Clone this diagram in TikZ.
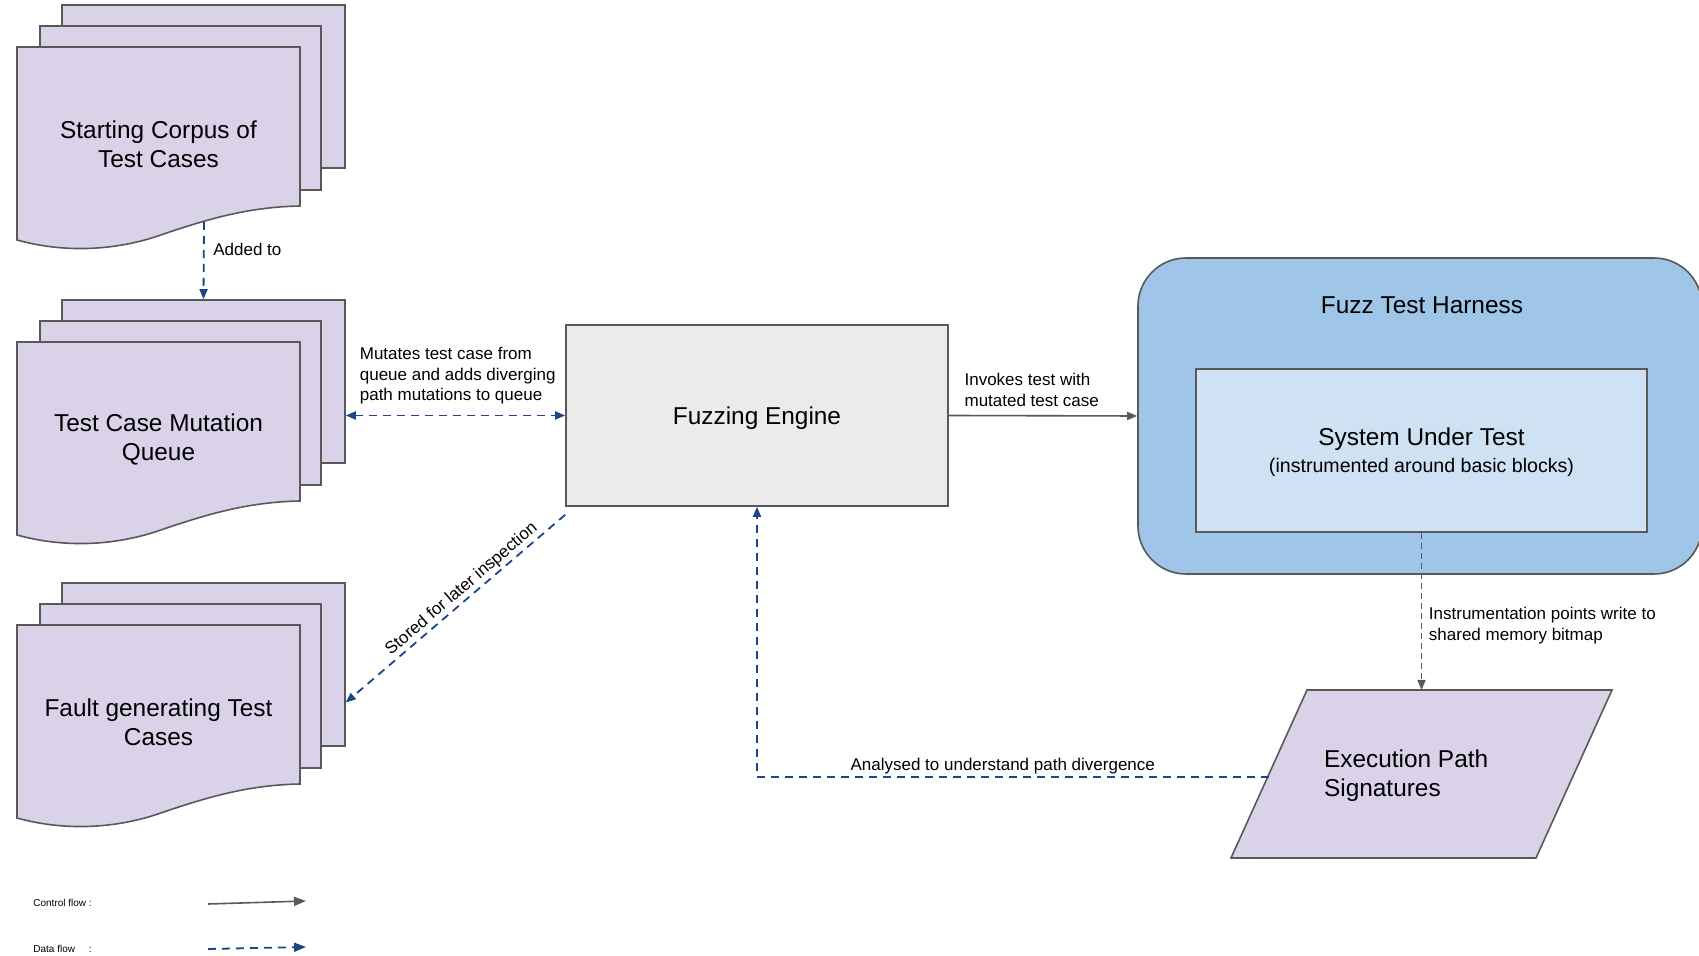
\documentclass[tikz,border=0pt]{standalone}
\usepackage{fontspec}
\setmainfont{Liberation Sans}
\usetikzlibrary{arrows.meta}
\usetikzlibrary{positioning}

\definecolor{sheetfill}{HTML}{D9D2E9}
\definecolor{enginefill}{HTML}{EBEBEB}
\definecolor{harnessfill}{HTML}{9FC5E8}
\definecolor{sutfill}{HTML}{CFE2F3}
\definecolor{edgegray}{HTML}{595959}
\definecolor{flowblue}{HTML}{1C4587}

\tikzset{
  sheet/.style={draw=edgegray, fill=sheetfill, line width=0.8pt},
  box/.style={draw=edgegray, line width=0.8pt},
  bigtext/.style={font=\fontsize{12.2}{14.6}\selectfont, align=center},
  smalltext/.style={font=\fontsize{8.5}{10.2}\selectfont, align=left},
  keytext/.style={font=\fontsize{5}{6}\selectfont, inner sep=0pt, anchor=west},
  controlflow/.style={draw=edgegray, line width=0.8pt, -{Triangle[length=5pt,width=4pt]}},
  dataflow/.style={draw=flowblue, line width=0.9pt, dash pattern=on 4pt off 3pt, -{Triangle[length=5pt,width=4pt]}},
}

\begin{document}
\begin{tikzpicture}[x=0.5pt, y=-0.5pt]
\useasboundingbox (0,0) rectangle (1699,956);
\clip (0,0) rectangle (1699,956);
% stacks of test case sheets
\foreach \dy/\name/\txt in {0/corpus/{Starting Corpus of\\Test Cases}, 295/queue/{Test Case Mutation\\Queue}, 578/faults/{Fault generating Test\\Cases}}{
  \begin{scope}[shift={(0,\dy)}]
  \node[sheet, minimum width=141.5pt, minimum height=81.5pt] (\name-back) at (203.5,86.5) {};
  \node[sheet, minimum width=140.5pt, minimum height=82pt] (\name-mid) at (180.5,108) {};
  \draw[sheet] (17,47) -- (300,47) -- (300,206) .. controls (250,207) and (210,218) .. (158,236) .. controls (110,252) and (60,252) .. (17,240) -- cycle;
  \node[bigtext] (\name) at (158.5,144.5) {\txt};
  \coordinate (\name-wave) at (204,222);
  \end{scope}
}
% engine and harness
\node[box, fill=enginefill, minimum width=191pt, minimum height=90.5pt, bigtext, text depth=0pt] (engine) at (757,415.5) {Fuzzing Engine};
\node[box, fill=harnessfill, rounded corners=24pt, minimum width=282pt, minimum height=158pt] (harness) at (1420,416) {};
\node[bigtext] (harness-title) at (1422,305) {Fuzz Test Harness};
\node[box, fill=sutfill, minimum width=225.5pt, minimum height=81.5pt, bigtext, text depth=0pt] (sut) at (1421.5,450.5) {System Under Test\\[-1pt]{\fontsize{9.8}{11}\selectfont (instrumented around basic blocks)}};
% signatures
\draw[sheet] (1307,690) coordinate (exec-top) -- (1612,690) -- (1536,858) -- (1231,858) -- cycle;
\coordinate (exec-w) at (1269,777);
\node[bigtext, align=left, anchor=west] (exec) at (1317,775.5) {Execution Path\\Signatures};
% connectors
\draw[dataflow] (corpus-wave) -- node[smalltext, right, pos=0.35, xshift=1pt] {Added to} (queue-back.north);
\draw[dataflow, {Triangle[length=5pt,width=4pt]}-{Triangle[length=5pt,width=4pt]}] (queue-back.east |- engine.west) -- node[smalltext, above=2pt, pos=0.51] {Mutates test case from\\queue and adds diverging\\path mutations to queue} (engine.west);
\draw[dataflow] ([yshift=-4pt]engine.south west) -- node[smalltext, sloped, above, inner sep=1pt, pos=0.44] {Stored for later inspection} ([yshift=-19pt]faults-back.east);
\draw[controlflow] (engine.east) -- node[smalltext, above=1pt, pos=0.44] {Invokes test with\\mutated test case} (harness.west);
\draw[controlflow, dash pattern=on 3pt off 2pt] (sut.south) -- node[smalltext, right, pos=0.59] {Instrumentation points write to\\shared memory bitmap} (sut.south |- exec-top);
\draw[dataflow] (exec-w) -- node[smalltext, above, inner sep=1pt, pos=0.52] {Analysed to understand path divergence} (exec-w -| engine.south) -- (engine.south);
% legend
\node[keytext] (ctrl-key) at (33,903) {Control flow :};
\node[keytext] (data-key) at (33,949) {Data flow\hspace{6.9pt}:};
\coordinate (ctrl-a) at (208,904);
\coordinate (ctrl-b) at (306,901);
\coordinate (data-a) at (208,949);
\coordinate (data-b) at (306,947);
\draw[controlflow, -{Triangle[length=6pt,width=4.5pt]}] (ctrl-a) -- (ctrl-b);
\draw[dataflow, -{Triangle[length=6pt,width=4.5pt]}] (data-a) -- (data-b);
\end{tikzpicture}
\end{document}
